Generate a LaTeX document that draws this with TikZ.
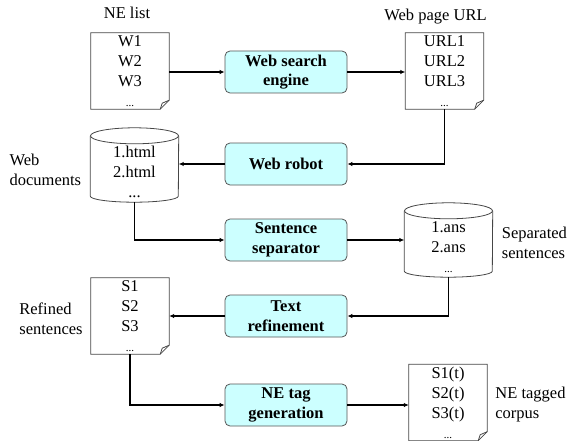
\documentclass[tikz,border=0pt]{standalone}
\usepackage{fontspec}
\setmainfont{Liberation Serif}
\usetikzlibrary{arrows.meta,positioning}
\definecolor{boxfill}{RGB}{204,255,255}
\definecolor{boxline}{RGB}{85,85,85}
\definecolor{pageline}{RGB}{70,70,70}
\newcommand{\moredots}{{\fontsize{11}{20}\selectfont ...}}

\tikzset{
  every node/.style={font=\fontsize{16.5}{20}\selectfont},
  process/.style={draw=boxline, fill=boxfill, rounded corners=5pt, line width=0.8pt,
    minimum width=122pt, minimum height=42pt, inner sep=0pt, align=center,
    font=\fontsize{16.5}{19.5}\selectfont\bfseries},
  page/.style={minimum width=78pt, minimum height=76pt, inner sep=0pt, align=center},
  drum/.style={minimum width=88pt, minimum height=60pt, inner sep=0pt, align=center},
  caption/.style={inner sep=0pt, align=left},
  outline/.style={draw=pageline, line width=0.8pt},
  flow/.style={line width=1.2pt, -{Latex[length=5pt,width=4.5pt]}},
}

\begin{document}
\begin{tikzpicture}[x=1pt, y=-1pt]
  \useasboundingbox (0,0) rectangle (567,441);

  % documents and stores
  \node[page] (nelist)  at (130,71)    {W1\\W2\\W3\\\moredots};
  \node[page] (urls)    at (444.5,71)  {URL1\\URL2\\URL3\\\moredots};
  \node[drum] (webdocs) at (134.5,172) {1.html\\2.html\\...};
  \node[drum] (sepsent) at (448.5,247) {1.ans\\2.ans\\\moredots};
  \node[page] (refined) at (130,316)   {S1\\S2\\S3\\\moredots};
  \node[page] (tagged)  at (448,402.5) {S1(t)\\S2(t)\\S3(t)\\\moredots};

  % processing steps
  \node[process] (engine) at (286,72)  {Web search\\engine};
  \node[process] (robot)  at (286,164) {Web robot};
  \node[process] (splitter) at (286,240) {Sentence\\separator};
  \node[process] (refine) at (286,316) {Text\\refinement};
  \node[process] (netag)  at (286,405) {NE tag\\generation};

  % captions
  \node[caption, above=14pt of nelist, xshift=-3pt] (nelistcap) {NE list};
  \node[caption, above=9pt of urls, xshift=-9pt] (urlscap) {Web page URL};
  \node[caption, left=9pt of webdocs, yshift=2pt] (webdocscap) {Web\\documents};
  \node[caption, right=9pt of sepsent, yshift=4pt] (sepsentcap) {Separated\\sentences};
  \node[caption, left=8pt of refined, yshift=-3pt] (refinedcap) {Refined\\sentences};
  \node[caption, right=8pt of tagged, yshift=-2pt] (taggedcap) {NE tagged\\corpus};

  % page outlines with folded corner
  \foreach \p in {nelist,urls,refined,tagged}{
    \draw[outline] (\p.north west) -- (\p.north east) -- ([yshift=9pt]\p.south east)
      -- ([xshift=-9pt]\p.south east) -- (\p.south west) -- cycle;
    \draw[outline] ([xshift=-9pt]\p.south east) -- ([xshift=-7pt,yshift=6pt]\p.south east)
      -- ([yshift=9pt]\p.south east);
  }

  % store outlines
  \foreach \c in {webdocs,sepsent}{
    \draw[outline] ([yshift=6pt]\c.north west) -- ([yshift=6pt]\c.south west)
      arc[start angle=180, end angle=360, x radius=44pt, y radius=6pt]
      -- ([yshift=6pt]\c.north east);
    \draw[outline] ([yshift=6pt]\c.north) ellipse [x radius=44pt, y radius=8pt];
  }

  % connectors
  \draw[flow] (nelist.east |- engine.west) -- (engine.west);
  \draw[flow] (engine.east) -- (engine.east -| urls.west);
  \draw[flow] (urls.south) |- (robot.east);
  \draw[flow] (robot.west) -- (robot.west -| webdocs.east);
  \draw[flow] (webdocs.south) |- (splitter.west);
  \draw[flow] (splitter.east) -- (splitter.east -| sepsent.west);
  \draw[flow] (sepsent.south) |- (refine.east);
  \draw[flow] (refine.west) -- (refine.west -| refined.east);
  \draw[flow] (refined.south) |- (netag.west);
  \draw[flow] (netag.east) -- (netag.east -| tagged.west);
\end{tikzpicture}
\end{document}
